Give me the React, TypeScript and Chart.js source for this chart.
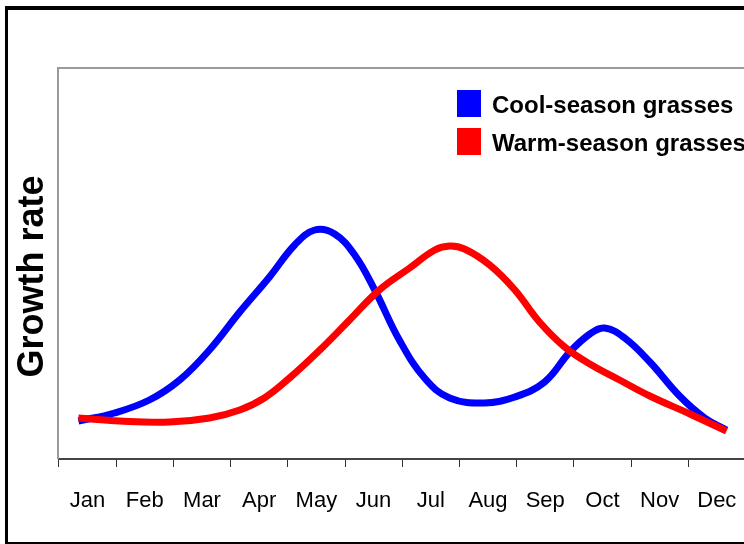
import React, { useEffect, useRef } from "react";
import { Chart, registerables } from "chart.js";

Chart.register(...registerables);

const months = ["Jan", "Feb", "Mar", "Apr", "May", "Jun", "Jul", "Aug", "Sep", "Oct", "Nov", "Dec"];

// x in month units (Jan = 1), y in relative growth units
const coolX = [0.84, 1.47, 2.08, 2.61, 3.13, 3.66, 4.18, 4.62, 4.97, 5.32, 5.67, 6.02, 6.45, 6.89, 7.33, 7.94, 8.47, 8.99, 9.43, 9.78, 10.04, 10.39, 10.83, 11.35, 11.79, 12.17];
const coolY = [38, 46, 59, 79, 109, 147, 182, 214, 229, 225, 204, 169, 119, 81, 61, 56, 62, 77, 107, 125, 131, 121, 97, 63, 41, 29];

const warmX = [0.84, 1.56, 2.43, 3.13, 3.66, 4.09, 4.53, 5.06, 5.58, 6.1, 6.63, 7.07, 7.33, 7.59, 8.03, 8.47, 8.9, 9.34, 9.78, 10.3, 10.83, 11.53, 12.17];
const warmY = [41, 38, 37, 41, 49, 61, 81, 109, 139, 169, 191, 209, 213, 210, 194, 169, 137, 112, 95, 79, 63, 45, 28];

const seriesNames = ["Cool-season grasses", "Warm-season grasses"];
const seriesColors = ["#0000ff", "#ff0000"];
const yTitle = "Growth rate";

const FONT = "'Liberation Sans', Arial, Helvetica, sans-serif";

const framePlugin = {
  id: "frame",
  beforeDatasetsDraw(chart: any) {
    const { ctx, chartArea } = chart;
    ctx.save();
    ctx.strokeStyle = "#9a9a9a";
    ctx.lineWidth = 2;
    ctx.beginPath();
    ctx.moveTo(chartArea.left - 1, chartArea.bottom);
    ctx.lineTo(chartArea.left - 1, chartArea.top);
    ctx.lineTo(chartArea.right + 10, chartArea.top);
    ctx.stroke();
    ctx.restore();
  },
  afterDraw(chart: any) {
    const { ctx, chartArea } = chart;
    ctx.save();
    // legend
    const bx = chartArea.left + 398;
    const rows = [chartArea.top + 22, chartArea.top + 60];
    seriesNames.forEach((name, i) => {
      ctx.fillStyle = seriesColors[i];
      ctx.fillRect(bx, rows[i], 24, 27);
      ctx.fillStyle = "#000";
      ctx.font = `bold 24px ${FONT}`;
      ctx.textAlign = "left";
      ctx.textBaseline = "alphabetic";
      ctx.fillText(name, bx + 35, rows[i] + 23);
    });
    // y title
    ctx.translate(43, (chartArea.top + chartArea.bottom) / 2 + 13);
    ctx.rotate(-Math.PI / 2);
    ctx.font = `bold 36px ${FONT}`;
    ctx.textAlign = "center";
    ctx.textBaseline = "alphabetic";
    ctx.fillStyle = "#000";
    ctx.fillText(yTitle, 0, 0);
    ctx.restore();
  },
};

export default function App() {
  const ref = useRef<HTMLCanvasElement>(null);
  useEffect(() => {
    if (!ref.current) return;
    const chart = new Chart(ref.current, {
      type: "line",
      data: {
        labels: months,
        datasets: [
          {
            label: seriesNames[0],
            data: coolX.map((x, i) => ({ x, y: coolY[i] })),
            borderColor: seriesColors[0],
            backgroundColor: seriesColors[0],
            borderWidth: 7,
            pointRadius: 0,
            tension: 0.4,
            xAxisID: "xl",
            order: 2,
          },
          {
            label: seriesNames[1],
            data: warmX.map((x, i) => ({ x, y: warmY[i] })),
            borderColor: seriesColors[1],
            backgroundColor: seriesColors[1],
            borderWidth: 7,
            pointRadius: 0,
            tension: 0.4,
            xAxisID: "xl",
            order: 1,
          },
        ],
      },
      options: {
        responsive: false,
        animation: false,
        devicePixelRatio: 1,
        layout: { padding: { left: 59, top: 68, right: 54.6, bottom: 0 } },
        plugins: { legend: { display: false }, tooltip: { enabled: false } },
        scales: {
          x: {
            type: "category",
            position: "bottom",
            offset: true,
            grid: {
              offset: true,
              drawOnChartArea: false,
              drawTicks: true,
              tickLength: 8,
              color: "#333",
              lineWidth: 1,
            },
            border: { display: true, color: "#444", width: 2 },
            ticks: {
              color: "#000",
              font: { family: FONT, size: 22 },
              padding: 21,
              maxRotation: 0,
              autoSkip: false,
            },
            afterFit: (scale: any) => {
              scale.height = 85;
            },
          },
          xl: {
            type: "linear",
            display: false,
            min: 0.5,
            max: 12.5,
          },
          y: {
            type: "linear",
            display: false,
            min: 0,
            max: 391,
          },
        },
      },
      plugins: [framePlugin],
    });
    return () => chart.destroy();
  }, []);

  return (
    <div style={{ position: "fixed", left: 0, top: 0, width: 744, height: 544, overflow: "hidden", background: "#fff" }}>
      <canvas ref={ref} width={800} height={544} style={{ position: "absolute", left: 0, top: 0, width: 800, height: 544 }} />
      <div
        style={{
          position: "absolute",
          left: 5,
          top: 6,
          width: 800,
          height: 532,
          borderLeft: "3px solid #000",
          borderTop: "4px solid #000",
          borderBottom: "3px solid #000",
          pointerEvents: "none",
        }}
      />
    </div>
  );
}
